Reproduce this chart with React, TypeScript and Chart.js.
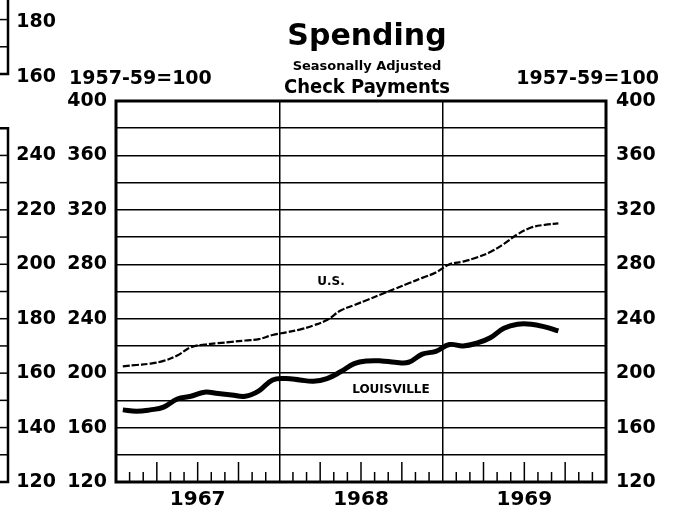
import React, { useEffect, useRef } from 'react';
import { Chart, registerables } from 'chart.js';

Chart.register(...registerables);

// Monthly index values, Jan 1967 .. Sep 1969 (1957-59=100)
const usValues = [
  205, 206, 207, 209, 213, 219, 221, 222, 223, 224, 225, 228,
  230, 232, 235, 239, 246, 250, 254, 258, 262, 266, 270, 274,
  280, 282, 285, 289, 295, 302, 307, 309, 310,
];
const louisvilleValues = [
  173, 172, 173, 175, 181, 183, 186, 185, 184, 183, 187, 195,
  196, 195, 194, 196, 201, 207, 209, 209, 208, 208, 214, 216,
  221, 220, 222, 226, 233, 236, 236, 234, 231,
];
const yearLabels = ['1967', '1968', '1969'];
const mainTickValues = [120, 160, 200, 240, 280, 320, 360, 400];
const leftPanelTicks = [120, 140, 160, 180, 200, 220, 240];
const upperPanelTicks = ['180', '160'];
const baseLabel = '1957-59=100';

const FONT = '"DejaVu Sans", "Liberation Sans", sans-serif';
const COND = '"DejaVu Sans Condensed", "Liberation Sans Narrow", "DejaVu Sans", sans-serif';

const decorPlugin = {
  id: 'decor',
  afterDraw(chart: any) {
    const { ctx, chartArea: ca, scales } = chart;
    const xs = scales.x;
    const yL = scales.yL;
    const y = scales.y;
    ctx.save();
    ctx.strokeStyle = '#000';
    ctx.fillStyle = '#000';

    // month tick marks inside bottom of plot
    ctx.lineWidth = 1.5;
    for (let m = 1; m < 36; m++) {
      if (m % 12 === 0) continue;
      const px = xs.getPixelForValue(m);
      const len = m % 3 === 0 ? 20 : 10;
      ctx.beginPath();
      ctx.moveTo(px, ca.bottom);
      ctx.lineTo(px, ca.bottom - len);
      ctx.stroke();
    }

    // frame
    ctx.lineWidth = 3;
    ctx.strokeRect(ca.left, ca.top, ca.right - ca.left, ca.bottom - ca.top);

    // left neighbour panel fragment
    const fx = 8;
    const topL = yL.getPixelForValue(250);
    const botL = yL.getPixelForValue(120);
    ctx.lineWidth = 2.5;
    ctx.beginPath();
    ctx.moveTo(0, topL);
    ctx.lineTo(fx, topL);
    ctx.lineTo(fx, botL);
    ctx.lineTo(0, botL);
    ctx.stroke();
    ctx.lineWidth = 1.5;
    for (let v = 130; v < 250; v += 10) {
      const py = yL.getPixelForValue(v);
      ctx.beginPath();
      ctx.moveTo(0, py);
      ctx.lineTo(fx, py);
      ctx.stroke();
    }

    // upper neighbour panel fragment
    const step = yL.getPixelForValue(120) - yL.getPixelForValue(130);
    const upBottom = 74;
    ctx.lineWidth = 2.5;
    ctx.beginPath();
    ctx.moveTo(fx, 0);
    ctx.lineTo(fx, upBottom);
    ctx.lineTo(0, upBottom);
    ctx.stroke();
    ctx.lineWidth = 1.5;
    for (let k = 1; k <= 2; k++) {
      const py = upBottom - k * step;
      ctx.beginPath();
      ctx.moveTo(0, py);
      ctx.lineTo(fx, py);
      ctx.stroke();
    }
    ctx.font = `bold 19px ${FONT}`;
    ctx.textAlign = 'right';
    ctx.textBaseline = 'middle';
    ctx.fillText(upperPanelTicks[0], 56, upBottom - 2 * step + 2);
    ctx.fillText(upperPanelTicks[1], 56, upBottom + 3);

    // headings
    const cx = 367;
    ctx.textAlign = 'center';
    ctx.font = `bold 30px ${FONT}`;
    ctx.fillText('Spending', cx, 37);
    ctx.font = `bold 13px ${FONT}`;
    ctx.fillText('Seasonally Adjusted', cx, 67);
    ctx.font = `bold 20px ${COND}`;
    ctx.fillText('Check Payments', cx, 88);

    ctx.font = `bold 19px ${FONT}`;
    ctx.textAlign = 'left';
    ctx.fillText(baseLabel, 69, 79);
    ctx.textAlign = 'right';
    ctx.fillText(baseLabel, 659, 79);

    // series labels
    ctx.font = `bold 12px ${FONT}`;
    ctx.textAlign = 'center';
    ctx.fillText('U.S.', xs.getPixelForValue(15.8), y.getPixelForValue(267));
    ctx.fillText('LOUISVILLE', xs.getPixelForValue(20.2), y.getPixelForValue(187.5));
    ctx.restore();
  },
};

export default function App() {
  const ref = useRef<HTMLCanvasElement | null>(null);
  useEffect(() => {
    document.body.style.margin = '0';
    const canvas = ref.current!;
    const tickFont = { family: FONT, size: 19, weight: 'bold' as const };
    const chart = new Chart(canvas, {
      type: 'line',
      data: {
        datasets: [
          {
            label: 'U.S.',
            data: usValues.map((v, i) => ({ x: i + 0.5, y: v })),
            borderColor: '#000',
            borderWidth: 2.2,
            borderDash: [7, 2],
            pointRadius: 0,
            tension: 0.4,
            fill: false,
          },
          {
            label: 'Louisville',
            data: louisvilleValues.map((v, i) => ({ x: i + 0.5, y: v })),
            borderColor: '#000',
            borderWidth: 5,
            pointRadius: 0,
            tension: 0.4,
            fill: false,
          },
        ],
      },
      options: {
        responsive: false,
        animation: false,
        layout: { padding: { top: 101, right: 0, bottom: 0, left: 0 } },
        plugins: {
          legend: { display: false },
          tooltip: { enabled: false },
          title: { display: false },
        },
        scales: {
          x: {
            type: 'linear',
            min: 0,
            max: 36,
            afterBuildTicks: (s: any) => {
              s.ticks = [0, 6, 12, 18, 24, 30, 36].map((v) => ({ value: v }));
            },
            afterFit: (s: any) => {
              s.height = 35;
            },
            grid: {
              color: (c: any) =>
                c.tick && (c.tick.value === 12 || c.tick.value === 24) ? '#000' : 'rgba(0,0,0,0)',
              lineWidth: 1.5,
              drawTicks: false,
            },
            border: { display: false },
            ticks: {
              autoSkip: false,
              maxRotation: 0,
              padding: 6,
              color: '#000',
              font: { family: FONT, size: 20, weight: 'bold' },
              callback: (v: any) => {
                const i = [6, 18, 30].indexOf(Number(v));
                return i >= 0 ? yearLabels[i] : '';
              },
            },
          },
          y: {
            position: 'left',
            weight: 0,
            min: 120,
            max: 400,
            afterBuildTicks: (s: any) => {
              const t = [];
              for (let v = 120; v <= 400; v += 20) t.push({ value: v });
              s.ticks = t;
            },
            afterFit: (s: any) => {
              s.width = 56;
            },
            grid: { color: '#000', lineWidth: 1.5, drawTicks: false },
            border: { display: false },
            ticks: {
              autoSkip: false,
              padding: 9,
              color: '#000',
              font: tickFont,
              callback: (v: any) => (mainTickValues.includes(Number(v)) ? String(v) : ''),
            },
          },
          yL: {
            position: 'left',
            weight: 1,
            min: 120,
            max: 260,
            afterBuildTicks: (s: any) => {
              s.ticks = leftPanelTicks.map((v) => ({ value: v }));
            },
            afterFit: (s: any) => {
              s.width = 60;
            },
            grid: { display: false, drawTicks: false },
            border: { display: false },
            ticks: {
              autoSkip: false,
              padding: 4,
              color: '#000',
              font: tickFont,
            },
          },
          y2: {
            position: 'right',
            min: 120,
            max: 400,
            afterBuildTicks: (s: any) => {
              s.ticks = mainTickValues.map((v) => ({ value: v }));
            },
            afterFit: (s: any) => {
              s.width = 71;
            },
            grid: { display: false, drawTicks: false },
            border: { display: false },
            ticks: {
              autoSkip: false,
              padding: 10,
              color: '#000',
              font: tickFont,
            },
          },
        },
      },
      plugins: [decorPlugin],
    });
    return () => chart.destroy();
  }, []);
  return <canvas ref={ref} width={677} height={517} style={{ display: 'block' }} />;
}
